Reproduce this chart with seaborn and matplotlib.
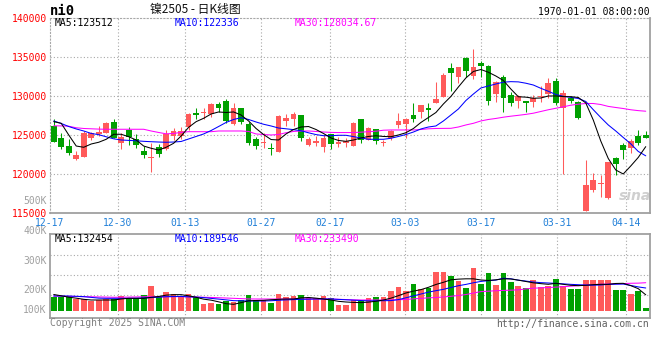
import matplotlib
matplotlib.use("Agg")
import matplotlib.pyplot as plt
import numpy as np
import pandas as pd
import seaborn as sns

# ---------- data ----------
dates = ["12-17", "12-30", "01-13", "01-27", "02-17", "03-03", "03-17", "03-31", "04-14"]
# where each date gridline sits, in candle slots
date_pos = [-0.5, 8.55, 17.55, 27.7, 36.93, 46.94, 57.05, 67.18, 76.39]

opens = [126190, 124580, 123600, 121970, 122230, 124650, 125130, 125290, 126700, 123940,
         125640, 124530, 122960, 122100, 123470, 123210, 124870, 124910, 126000, 127850,
         127770, 127680, 128960, 129340, 126400, 128410, 126400, 124450, 123940, 123300,
         122870, 126790, 127040, 127550, 123720, 123940, 123510, 125090, 123890, 123940,
         123590, 127040, 124360, 125730, 123940, 124580, 126280, 126360, 127550, 127970,
         128490, 129050, 129810, 133520, 132440, 134870, 132530, 134230, 133850, 130200,
         132370, 130110, 129380, 129380, 129170, 129810, 130170, 131900, 128490, 129760,
         129170, 115330, 117980, 118780, 116920, 122020, 123680, 123300, 124870, 125000]
highs = [127000, 125290, 124450, 122960, 125510, 125420, 126150, 126700, 127000, 125290,
         125980, 125130, 123590, 123940, 123850, 125640, 125850, 125980, 127750, 128410,
         128410, 129120, 129250, 129560, 129050, 128500, 126700, 124780, 125220, 123940,
         127500, 127680, 127970, 127600, 124780, 124870, 125000, 125100, 124780, 124580,
         126700, 127040, 126060, 125730, 124360, 125640, 127850, 127130, 129050, 128830,
         129050, 131810, 132960, 134230, 133640, 135000, 135980, 134490, 133900, 131890,
         132660, 130530, 130110, 129400, 130110, 131260, 132240, 132240, 130750, 129980,
         129340, 121810, 120110, 119890, 121590, 122150, 123940, 124450, 125640, 125510]
lows = [124100, 123170, 122450, 121800, 122230, 124360, 124910, 125220, 124580, 123250,
        123720, 123380, 122100, 120310, 122230, 123080, 124360, 124490, 125640, 127040,
        127040, 127340, 127970, 126570, 126280, 126360, 123720, 123170, 123300, 122440,
        122800, 126150, 126150, 124230, 123590, 123590, 122870, 123170, 123510, 123510,
        123590, 124020, 124360, 123850, 123590, 124360, 125850, 124580, 126700, 127130,
        126830, 129050, 129810, 130620, 131600, 132440, 132110, 132360, 128790, 129170,
        127970, 128700, 128410, 127970, 128610, 129250, 129680, 128830, 119980, 129050,
        127040, 115330, 117760, 117120, 116830, 119890, 121900, 122740, 123720, 124570]
closes = [124150, 123500, 122740, 122440, 125220, 125220, 125420, 126570, 124650, 124700,
          124700, 123760, 122440, 122230, 122580, 125130, 125550, 125550, 127720, 127590,
          127970, 128960, 128410, 126830, 128410, 126700, 124020, 123590, 124020, 123170,
          127430, 127130, 127680, 124650, 124490, 124230, 124650, 123810, 124070, 124230,
          126570, 124360, 125850, 124270, 124140, 125550, 126790, 127040, 127040, 128830,
          128150, 129600, 132660, 132960, 133640, 133210, 133640, 133850, 129380, 131730,
          129690, 129120, 129980, 129120, 129680, 129980, 131680, 129120, 130320, 129340,
          127130, 118610, 119250, 118910, 121590, 121300, 123080, 124270, 123940, 124650]

ma5 = [126700, 126490, 125000, 123590, 123430, 123850, 124070, 124450, 125090, 125090,
       124780, 124360, 123590, 123300, 123080, 123430, 123940, 124870, 125980, 126700,
       127130, 127680, 127940, 127870, 127940, 127550, 126790, 125830, 125060, 124420,
       124360, 125130, 125700, 126020, 126080, 125700, 125190, 124620, 124300, 124190,
       124360, 124620, 124810, 124900, 124810, 124780, 125000, 125290, 125830, 126600,
       127230, 127870, 128960, 129920, 131130, 132280, 133110, 133360, 133010, 132530,
       131960, 130870, 129880, 129830, 129690, 129720, 129980, 129980, 129900, 129890,
       129790, 129090, 126910, 124230, 122000, 120530, 120020, 121040, 122130, 123510]
ma10 = [126790, 126470, 126080, 125770, 125510, 125200, 125040, 124770, 124510, 124360,
        124310, 124260, 124190, 124140, 124100, 124070, 124100, 124170, 124490, 124810,
        125130, 125570, 126080, 126600, 126980, 127200, 126980, 126660, 126370, 126150,
        125890, 125790, 125680, 125540, 125280, 125050, 124910, 124910, 124960, 124960,
        124790, 124620, 124450, 124450, 124450, 124580, 124810, 125060, 125380, 125770,
        126020, 126150, 126790, 127550, 128320, 129400, 130230, 131000, 131260, 131510,
        131740, 131810, 131780, 131610, 131380, 130960, 130580, 130170, 129940, 129800,
        129660, 129280, 128230, 127230, 126280, 125510, 124680, 123880, 122900, 122340]
ma30 = [126170, 126160, 126120, 125920, 125830, 125790, 125750, 125730, 125730, 125730,
        125730, 125730, 125730, 125510, 125320, 125150, 125190, 125340, 125420, 125420,
        125420, 125420, 125510, 125510, 125510, 125510, 125450, 125130, 125060, 125000,
        125060, 125290, 125450, 125510, 125510, 125450, 125380, 125330, 125310, 125310,
        125310, 125360, 125420, 125480, 125610, 125640, 125640, 125640, 125640, 125700,
        125790, 125830, 125840, 125850, 126020, 126280, 126490, 126790, 126980, 127110,
        127270, 127400, 127510, 127630, 127780, 128000, 128220, 128410, 128600, 128800,
        128930, 129020, 129020, 128890, 128650, 128510, 128380, 128220, 128110, 128035]

# volume in thousand lots
vol = [117.1, 117.1, 117.1, 97.6, 94.9, 83.7, 89.3, 97.6, 97.6, 122.7,
       103.2, 103.2, 128.3, 206.2, 117.1, 156.1, 139.4, 117.1, 139.4, 117.1,
       55.9, 67.0, 55.9, 83.7, 75.4, 89.3, 128.3, 89.3, 89.3, 67.0,
       139.4, 117.1, 122.7, 128.3, 103.2, 103.2, 122.7, 103.2, 47.6, 47.6,
       89.3, 83.7, 103.2, 111.6, 111.6, 164.5, 197.9, 164.5, 222.9, 178.4,
       189.5, 323.1, 323.1, 289.7, 248.0, 189.5, 353.7, 225.7, 314.7, 214.5,
       314.7, 239.6, 206.2, 189.5, 256.3, 197.9, 206.2, 264.6, 206.2, 181.2,
       181.2, 256.3, 256.3, 256.3, 256.3, 172.8, 172.8, 139.4, 164.5, 22.5]
vol_ma5 = [135.2, 124.1, 112.9, 104.6, 94.9, 89.3, 89.3, 89.3, 89.3, 97.6,
           103.2, 103.2, 103.2, 111.6, 118.5, 129.7, 133.9, 133.9, 124.1, 111.6,
           96.3, 87.9, 74.0, 58.7, 53.1, 67.0, 82.3, 85.1, 86.5, 91.3,
           94.9, 97.6, 97.6, 106.6, 110.2, 104.6, 97.6, 89.3, 78.2, 72.6,
           69.0, 67.6, 71.5, 78.7, 89.3, 104.6, 125.5, 147.8, 163.1, 175.6,
           195.1, 218.7, 236.8, 257.7, 263.3, 266.0, 266.0, 256.3, 252.1, 257.7,
           266.0, 264.6, 254.9, 243.8, 232.6, 225.7, 220.1, 228.5, 220.1, 211.8,
           209.0, 211.8, 217.3, 220.1, 220.1, 227.1, 228.5, 209.0, 183.9, 132.5]
vol_ma10 = [122.7, 122.7, 122.2, 119.9, 117.1, 111.0, 104.9, 103.2, 103.2, 103.2,
            103.2, 104.0, 106.6, 109.1, 113.2, 116.6, 118.2, 119.1, 115.5, 113.8,
            109.1, 102.7, 96.6, 90.4, 83.7, 82.6, 81.2, 80.9, 80.9, 82.9,
            86.8, 90.1, 92.6, 94.9, 96.2, 97.6, 97.6, 97.6, 94.3, 91.2,
            87.9, 84.9, 81.8, 82.6, 83.5, 84.3, 92.6, 107.7, 123.3, 139.1,
            154.7, 167.0, 178.1, 193.4, 208.4, 219.3, 232.9, 244.3, 250.5, 255.5,
            271.1, 266.3, 254.6, 247.1, 239.1, 234.0, 231.0, 227.9, 224.0, 219.8,
            216.8, 214.0, 212.6, 214.6, 219.8, 221.2, 222.3, 210.9, 198.4, 189.5]
vol_ma30 = [122.2, 121.0, 119.7, 118.5, 117.1, 116.0, 114.6, 113.5, 112.1, 112.1,
            113.5, 114.6, 116.0, 117.1, 117.1, 117.1, 117.1, 117.1, 116.0, 114.1,
            112.1, 110.5, 108.2, 105.7, 103.2, 100.7, 98.2, 97.6, 97.6, 97.6,
            97.6, 97.6, 97.6, 97.6, 97.6, 97.6, 97.6, 97.6, 95.1, 92.9,
            90.4, 89.3, 89.3, 89.3, 89.3, 89.3, 91.5, 93.8, 98.8, 102.9,
            107.1, 109.6, 114.6, 120.2, 126.6, 134.7, 147.2, 159.2, 162.8, 166.7,
            169.2, 171.1, 174.2, 182.0, 187.8, 190.3, 193.4, 196.7, 200.4, 204.5,
            208.7, 213.2, 218.2, 221.0, 221.8, 223.7, 226.2, 228.8, 229.9, 233.5]

price_ticks = [115000, 120000, 125000, 130000, 135000, 140000]
vol_labels = ["500K", "400K", "300K", "200K", "100K"]

# ---------- style ----------
sns.set_style("white")
plt.rcParams["font.family"] = ["DejaVu Sans Mono", "Noto Sans CJK SC"]

RED = "#ff5a5a"
GREEN = "#00a000"
GRID = "#a8a8a8"
FRAME = "#a0a0a0"
DOT = (0, (1, 2))
MONO = 7
LW = 0.75

W, H = 660, 360
fig = plt.figure(figsize=(6.6, 3.6), dpi=100)
fig.patch.set_facecolor("white")


def box(x0, y0, x1, y1):
    return [x0 / W, 1 - y1 / H, (x1 - x0) / W, (y1 - y0) / H]


def ftext(px, py, s, **kw):
    fig.text(px / W, 1 - py / H, s, va="center", **kw)


ax = fig.add_axes(box(50, 17.5, 650, 213.3))
axv = fig.add_axes(box(50, 234, 650, 318))

n = len(closes)
x = np.arange(n)
o = np.array(opens)
c = np.array(closes)
up = c >= o
cols = np.where(up, RED, GREEN)

# ---------- price panel ----------
for v in price_ticks[1:-1]:
    ax.axhline(v, color=GRID, lw=0.8, ls=DOT, zorder=0)
for a in (ax, axv):
    for t in date_pos[1:]:
        a.axvline(t, color=GRID, lw=0.8, ls=DOT, zorder=0)

ax.vlines(x, lows, highs, colors=cols, lw=LW, zorder=2)
body = np.maximum(np.abs(c - o), 110)
ax.bar(x, body, bottom=np.minimum(o, c), width=0.76, color=cols, lw=0, zorder=3)

sns.lineplot(x=x, y=ma30, ax=ax, color="#ff00ff", lw=LW, zorder=4)
sns.lineplot(x=x, y=ma10, ax=ax, color="#0000ff", lw=LW, zorder=4)
sns.lineplot(x=x, y=ma5, ax=ax, color="black", lw=LW, zorder=5)

ax.set_xlim(-0.5, n - 0.43)
ax.set_ylim(price_ticks[0], price_ticks[-1])
ax.set_yticks(price_ticks, [str(v) for v in price_ticks])
ax.set_xticks(date_pos, dates)
ax.tick_params(axis="y", length=0, pad=2.4, labelsize=MONO, labelcolor="#ff0000")
ax.tick_params(axis="x", length=0, pad=3.2, labelsize=MONO, labelcolor="#1f7fd8")
ax.set_xlabel("")
ax.set_ylabel("")
for side in ("top", "left"):
    ax.spines[side].set(color=GRID, lw=0.8, ls=DOT)
for side in ("bottom", "right"):
    ax.spines[side].set(color=FRAME, lw=1.3)

ax.text(0.975, 0.09, "sina", transform=ax.transAxes, ha="center", va="center",
        color="#cfcfcf", fontsize=10, fontstyle="italic", fontweight="bold",
        family="DejaVu Sans", zorder=1)

# ---------- volume panel ----------
vdf = pd.DataFrame({"x": x, "vol": vol, "dir": np.where(up, "up", "down")})
sns.barplot(data=vdf, x="x", y="vol", hue="dir", palette={"up": RED, "down": GREEN},
            native_scale=True, width=0.76, dodge=False, saturation=1, errorbar=None,
            legend=False, linewidth=0, ax=axv, zorder=2)
sns.lineplot(x=x, y=vol_ma30, ax=axv, color="#ff00ff", lw=LW, zorder=4)
sns.lineplot(x=x, y=vol_ma10, ax=axv, color="#0000ff", lw=LW, zorder=4)
sns.lineplot(x=x, y=vol_ma5, ax=axv, color="black", lw=LW, zorder=5)

axv.set_xlim(-0.5, n - 0.43)
axv.set_ylim(-61, 640)
for v in (131, 298, 465):
    axv.axhline(v, color=GRID, lw=0.8, ls=DOT, zorder=0)
axv.set_xticks([])
axv.set_yticks([])
axv.set_xlabel("")
axv.set_ylabel("")
for side in axv.spines:
    axv.spines[side].set(color=FRAME, lw=1.3)

# ---------- texts ----------
for lab, py in zip(vol_labels, [200.5, 230.7, 260.7, 290.3, 310]):
    ftext(46.5, py, lab, ha="right", color="#a0a0a0", fontsize=MONO)

ftext(50, 11, "ni0", ha="left", fontsize=10, fontweight="bold", color="black")
ftext(195, 10, "镍2505 - 日K线图", ha="center", fontsize=8.5, color="#111111",
      family=["Noto Sans CJK SC", "DejaVu Sans"])
ftext(649.3, 11.7, "1970-01-01 08:00:00", ha="right", fontsize=MONO, color="black")

ftext(55, 23.5, "MA5:123512", ha="left", fontsize=MONO, color="black")
ftext(175, 23.5, "MA10:122336", ha="left", fontsize=MONO, color="#0000ff")
ftext(295, 23.5, "MA30:128034.67", ha="left", fontsize=MONO, color="#ff00ff")

ftext(55, 238.5, "MA5:132454", ha="left", fontsize=MONO, color="black")
ftext(175, 238.5, "MA10:189546", ha="left", fontsize=MONO, color="#0000ff")
ftext(295, 238.5, "MA30:233490", ha="left", fontsize=MONO, color="#ff00ff")

ftext(49.5, 323.5, "Copyright 2025 SINA.COM", ha="left", fontsize=MONO, color="#808080")
ftext(649.3, 324, "http://finance.sina.com.cn", ha="right", fontsize=MONO, color="#606060")

fig.savefig("out.png", dpi=100, facecolor="white")
